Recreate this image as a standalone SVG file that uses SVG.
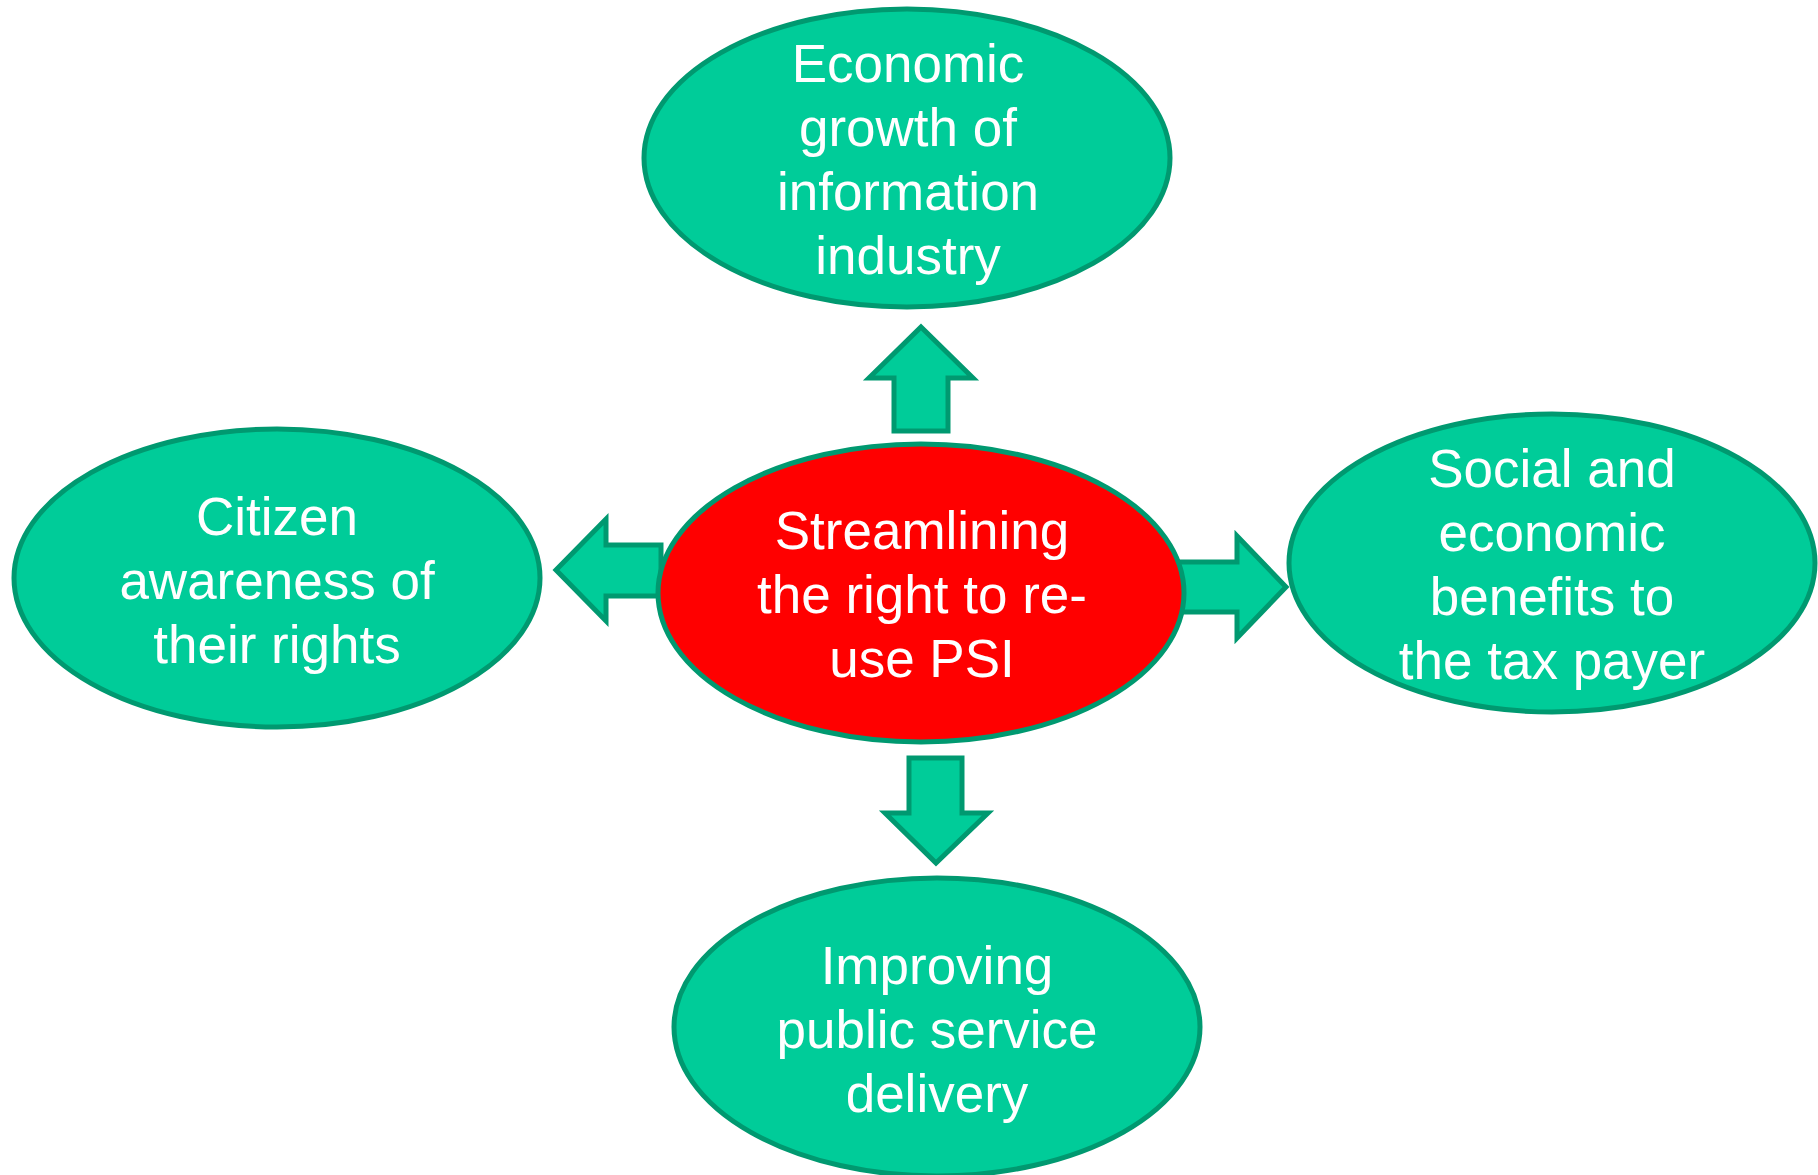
<svg xmlns="http://www.w3.org/2000/svg" width="1818" height="1175" viewBox="0 0 1818 1175">
<style>
.node{fill:#00CC99;stroke:#009970;stroke-width:5}
.core{fill:#FF0000;stroke:#009970;stroke-width:5}
.arrow{fill:#00CC99;stroke:#009970;stroke-width:5;stroke-linejoin:miter}
.lbl{fill:#FFFFFF;font-family:"Liberation Sans",Arial,sans-serif;font-size:53px;text-anchor:middle}
</style>
<rect width="1818" height="1175" fill="#FFFFFF"/>
<g id="connectors">
<polygon class="arrow" points="921,327 973,378 948,378 948,431 894,431 894,378 869,378"/>
<polygon class="arrow" points="556,570 606,519 606,545 661,545 661,596 606,596 606,621"/>
<polygon class="arrow" points="1178,562 1237,562 1237,536 1286,587 1237,638 1237,612 1178,612"/>
<polygon class="arrow" points="909,758 962,758 962,813 988,813 936,863 885,813 909,813"/>
</g>
<g id="node-top">
<ellipse class="node" cx="907" cy="158" rx="263" ry="149"/>
<text class="lbl"><tspan x="908" y="82">Economic</tspan><tspan x="908" y="146">growth of</tspan><tspan x="908" y="210">information</tspan><tspan x="908" y="274">industry</tspan></text>
</g>
<g id="node-left">
<ellipse class="node" cx="277" cy="578" rx="263" ry="149"/>
<text class="lbl"><tspan x="277" y="535">Citizen</tspan><tspan x="277" y="599">awareness of</tspan><tspan x="277" y="663">their rights</tspan></text>
</g>
<g id="node-right">
<ellipse class="node" cx="1552" cy="563" rx="263" ry="149"/>
<text class="lbl"><tspan x="1552" y="487">Social and</tspan><tspan x="1552" y="551">economic</tspan><tspan x="1552" y="615">benefits to</tspan><tspan x="1552" y="679">the tax payer</tspan></text>
</g>
<g id="node-bottom">
<ellipse class="node" cx="937" cy="1027" rx="263" ry="149"/>
<text class="lbl"><tspan x="937" y="984">Improving</tspan><tspan x="937" y="1048">public service</tspan><tspan x="937" y="1112">delivery</tspan></text>
</g>
<g id="node-center">
<ellipse class="core" cx="921" cy="593" rx="263" ry="149"/>
<text class="lbl"><tspan x="922" y="549">Streamlining</tspan><tspan x="922" y="613">the right to re-</tspan><tspan x="922" y="677">use PSI</tspan></text>
</g>
</svg>
